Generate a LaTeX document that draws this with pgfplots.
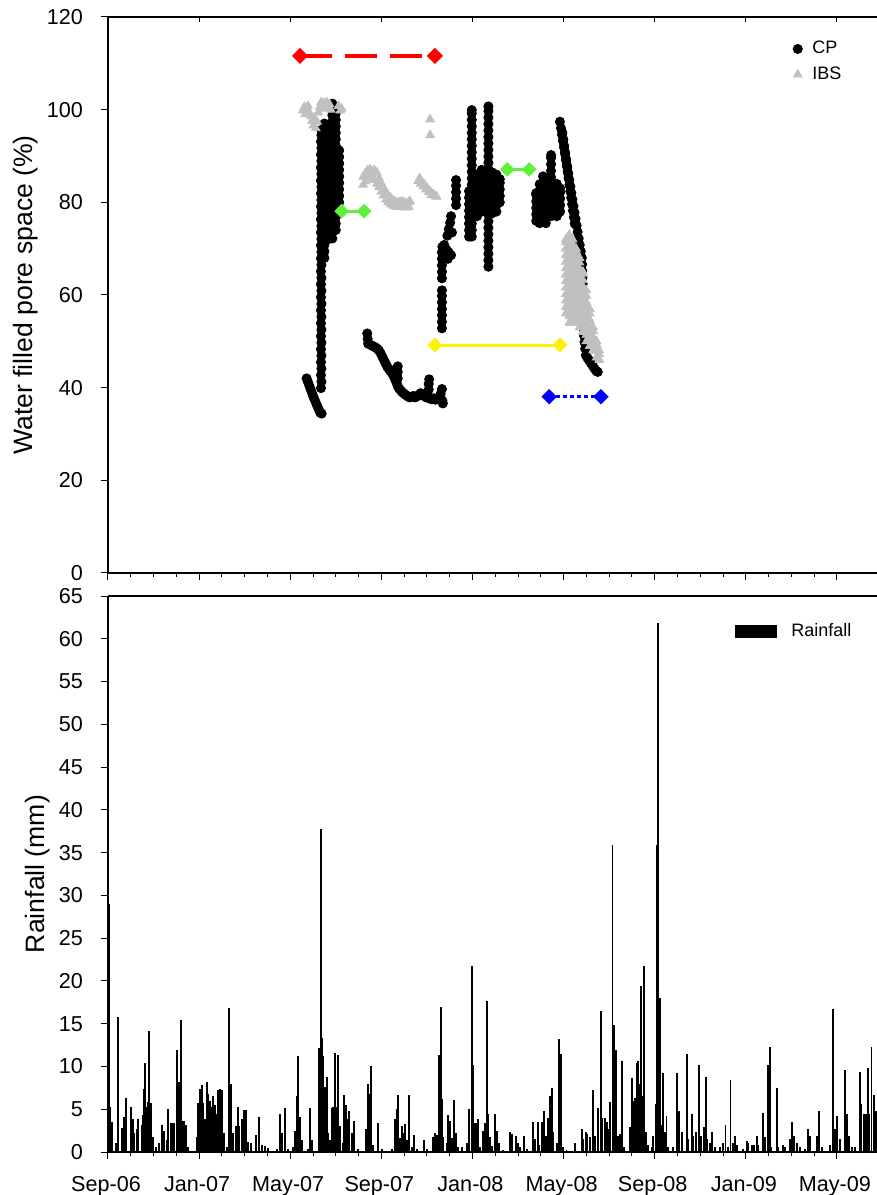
\documentclass[border=0pt]{standalone}
\usepackage{fontspec}
\setmainfont{Liberation Sans}
\usepackage{pgfplots}
\pgfplotsset{compat=1.18}
\definecolor{ibsgray}{RGB}{192,192,192}
\definecolor{lgreen}{RGB}{95,240,60}

\begin{document}
\begin{tikzpicture}
\pgfplotsset{
  base/.style={
    width=384.5pt, height=278pt, scale only axis,
    xmin=0, xmax=33.76,
    axis x line*=bottom, axis y line*=left,
    axis line style={-, line width=0.75pt},
    tick align=outside,
    major tick length=3.5pt, minor tick length=2pt,
    every tick/.style={line width=0.5pt, black},
    xtick={0,4,...,32}, minor x tick num=3,
    tick label style={font=\fontsize{10.8}{13}\selectfont},
    yticklabel style={xshift=-5.5pt},
    xticklabel style={yshift=-5pt, xshift=-1pt},
    /pgf/number format/assume math mode=true,
  },
  overlay/.style={
    width=384.5pt, height=278pt, scale only axis,
    xmin=0, xmax=33.76,
    axis x line*=top, axis y line=none,
    axis line style={-, line width=0.75pt},
    every tick/.style={line width=0.5pt, black},
    ytick=\empty, xticklabels={},
  },
  seg/.style={mark=square*, mark size=1.85pt, mark options={solid, rotate=45}, forget plot},
}

% ---------------- top panel ----------------
\begin{axis}[base, at={(0pt,289.5pt)},
  ymin=0, ymax=120, ytick={0,20,...,120},
  xticklabels={},
  ylabel={Water filled pore space (\%)},
  ylabel style={font=\fontsize{13.3}{16}\selectfont, at={(axis description cs:-0.1066,0.5)}, anchor=center},
  legend style={draw=none, fill=none, at={(0.962,0.968)}, anchor=north east,
    font=\fontsize{9}{11}\selectfont, row sep=1pt, inner sep=1pt,
    /tikz/every odd column/.append style={column sep=3pt}},
  legend cell align=left,
]
\addplot[only marks, mark=*, mark size=2.3pt, black] table {
8.72 42.0
8.78 41.2
8.84 40.4
8.90 39.6
8.96 38.8
9.02 38.0
9.08 37.3
9.14 36.6
9.20 35.9
9.26 35.2
9.32 34.6
9.38 34.4
9.35 39.9
9.37 41.3
9.35 42.7
9.37 44.1
9.35 45.5
9.37 46.9
9.35 48.3
9.37 49.7
9.35 51.1
9.37 52.5
9.35 53.9
9.37 55.3
9.35 56.7
9.37 58.1
9.35 59.5
9.37 60.9
9.35 62.3
9.37 63.7
9.35 65.1
9.37 66.5
9.35 67.9
9.37 69.3
9.35 70.7
9.37 72.1
9.35 73.5
9.37 74.9
9.35 76.3
9.37 77.7
9.35 79.1
9.37 80.5
9.35 81.9
9.37 83.3
9.35 84.7
9.37 86.1
9.35 87.5
9.37 88.9
9.35 90.3
9.37 91.7
9.35 93.1
9.37 94.5
9.36 95.6
9.50 68.0
9.50 69.4
9.50 70.8
9.50 72.2
9.50 73.6
9.50 75.0
9.50 76.4
9.50 77.8
9.50 79.2
9.50 80.6
9.50 82.0
9.50 83.4
9.50 84.8
9.50 86.2
9.50 87.6
9.50 89.0
9.50 90.4
9.50 91.8
9.50 93.2
9.50 94.6
9.50 96.0
9.50 97.0
9.65 72.0
9.65 73.4
9.65 74.8
9.65 76.2
9.65 77.6
9.65 79.0
9.65 80.4
9.65 81.8
9.65 83.2
9.65 84.6
9.65 86.0
9.65 87.4
9.65 88.8
9.65 90.2
9.65 91.6
9.65 93.0
9.65 94.4
9.65 95.8
9.85 72.2
9.85 73.6
9.85 75.0
9.85 76.4
9.85 77.8
9.85 79.2
9.85 80.6
9.85 82.0
9.85 83.4
9.85 84.8
9.85 86.2
9.85 87.6
9.85 89.0
9.85 90.4
9.85 91.8
9.85 93.2
9.85 94.6
9.85 96.0
9.85 97.4
9.85 98.8
9.85 100.2
9.85 101.3
10.00 74.0
10.00 75.4
10.00 76.8
10.00 78.2
10.00 79.6
10.00 81.0
10.00 82.4
10.00 83.8
10.00 85.2
10.00 86.6
10.00 88.0
10.00 89.4
10.00 90.8
10.00 92.2
10.00 93.6
10.00 95.0
10.00 96.4
10.00 97.8
10.00 99.2
10.00 100.6
10.15 80.0
10.15 81.4
10.15 82.8
10.15 84.2
10.15 85.6
10.15 87.0
10.15 88.4
10.15 89.8
10.15 91.2
11.38 51.7
11.40 50.5
11.42 49.5
11.50 49.3
11.58 49.1
11.66 48.9
11.74 48.7
11.82 48.4
11.90 48.0
11.97 47.4
12.04 46.7
12.11 46.0
12.18 45.3
12.25 44.6
12.32 44.1
12.39 43.6
12.46 43.2
12.53 42.6
12.60 41.8
12.67 41.0
12.72 40.3
12.72 42.0
12.72 43.4
12.72 44.6
12.78 39.8
12.85 39.4
12.92 39.0
13.00 38.7
13.08 38.4
13.16 38.1
13.24 37.9
13.32 38.0
13.40 38.2
13.48 37.9
13.56 38.1
13.64 38.4
13.72 38.8
13.80 38.6
13.88 38.2
13.96 37.9
14.04 38.3
14.08 39.6
14.08 40.8
14.10 41.8
14.14 37.6
14.22 37.5
14.30 37.7
14.38 37.4
14.46 37.6
14.54 37.9
14.60 38.6
14.66 39.7
14.68 37.2
14.70 36.6
14.66 52.8
14.66 54.2
14.66 55.6
14.66 57.0
14.66 58.4
14.66 59.8
14.66 61.0
14.66 63.6
14.66 65.0
14.66 66.4
14.66 67.8
14.66 69.2
14.68 70.4
14.76 70.8
14.86 69.8
14.96 69.2
15.06 68.6
14.80 68.2
14.92 67.8
14.90 72.8
14.96 74.2
15.02 75.6
15.06 77.0
15.10 73.5
15.28 79.4
15.28 80.8
15.28 82.2
15.28 83.6
15.28 84.8
15.85 72.6
15.85 74.0
15.85 75.4
15.85 76.8
15.85 78.2
15.85 79.6
15.85 81.0
15.85 82.4
15.97 72.6
15.97 74.0
15.97 75.4
15.97 76.8
15.97 78.2
15.97 79.6
15.97 81.0
15.97 82.4
15.97 83.8
15.97 85.2
15.97 86.6
15.97 88.0
15.97 89.4
15.97 90.8
15.97 92.2
15.97 93.6
15.97 95.0
15.97 96.4
15.97 97.8
15.97 99.2
15.97 99.9
16.20 77.0
16.20 78.4
16.20 79.8
16.20 81.2
16.20 82.6
16.20 84.0
16.20 85.4
16.20 86.0
16.40 78.0
16.40 79.4
16.40 80.8
16.40 82.2
16.40 83.6
16.40 85.0
16.40 86.4
16.40 87.0
16.55 79.0
16.55 80.4
16.55 81.8
16.55 83.2
16.55 84.6
16.55 86.0
16.70 66.1
16.70 67.5
16.70 68.9
16.70 70.3
16.70 71.7
16.70 73.1
16.70 74.5
16.70 75.9
16.70 77.3
16.70 78.7
16.70 80.1
16.70 81.5
16.70 82.9
16.70 84.3
16.70 85.7
16.70 87.1
16.70 88.5
16.70 89.9
16.70 91.3
16.70 92.7
16.70 94.1
16.70 95.5
16.70 96.9
16.70 98.3
16.70 99.7
16.70 100.7
16.85 77.6
16.85 79.0
16.85 80.4
16.85 81.8
16.85 83.2
16.85 84.6
16.85 86.0
16.85 86.5
17.05 78.0
17.05 79.4
17.05 80.8
17.05 82.2
17.05 83.6
17.05 85.0
17.05 86.0
17.20 80.0
17.20 81.4
17.20 82.8
17.20 84.2
17.20 85.0
18.80 76.0
18.80 77.4
18.80 78.8
18.80 80.2
18.80 81.6
18.80 82.0
18.95 75.5
18.95 76.9
18.95 78.3
18.95 79.7
18.95 81.1
18.95 82.5
18.95 83.9
19.10 76.0
19.10 77.4
19.10 78.8
19.10 80.2
19.10 81.6
19.10 83.0
19.10 84.4
19.10 85.6
19.22 75.5
19.22 76.9
19.22 78.3
19.22 79.7
19.45 77.0
19.45 78.4
19.45 79.8
19.45 81.2
19.45 82.6
19.45 84.0
19.45 85.4
19.45 86.8
19.45 88.2
19.45 89.6
19.45 90.2
19.70 77.0
19.70 78.4
19.70 79.8
19.70 81.2
19.70 82.6
19.70 84.0
19.85 78.0
19.85 79.4
19.85 80.8
19.85 82.2
19.85 83.0
19.840 97.4
19.886 96.0
19.932 94.6
19.977 93.2
20.023 91.8
20.069 90.4
20.115 89.0
20.160 87.6
20.206 86.2
20.252 84.8
20.298 83.4
20.343 82.0
20.389 80.6
20.435 79.2
20.481 77.8
20.526 76.4
20.572 75.0
20.618 73.6
20.664 72.2
20.709 70.8
20.755 69.4
20.801 68.0
20.81 66.6
20.82 65.2
20.83 63.8
20.84 62.4
20.85 61.0
20.86 59.6
20.87 58.2
20.87 56.8
20.88 55.4
20.88 54.0
20.89 52.6
20.90 51.2
20.92 49.8
20.95 48.4
20.98 47.0
21.05 46.4
21.12 45.9
21.20 45.3
21.28 44.7
21.36 44.1
21.44 43.6
21.50 43.4
19.950 95.0
19.988 93.6
20.027 92.2
20.065 90.8
20.104 89.4
20.142 88.0
20.181 86.6
20.219 85.2
20.258 83.8
20.296 82.4
20.335 81.0
20.373 79.6
20.412 78.2
20.450 76.8
20.488 75.4
};
\addlegendentry{CP}
\addplot[only marks, mark=triangle*, mark size=2.5pt, color=ibsgray] table {
8.55 99.8
8.62 100.6
8.66 99.0
8.72 99.6
8.78 100.8
8.84 99.4
8.90 98.6
8.96 97.6
9.02 96.6
9.06 98.2
9.12 96.0
9.18 97.4
9.24 99.4
9.30 100.6
9.36 101.6
9.42 100.4
9.48 101.4
9.54 100.2
9.60 101.6
9.66 100.4
9.72 101.2
9.78 100.0
10.12 100.8
10.20 99.8
10.26 100.2
11.20 85.5
11.30 86.3
11.40 86.9
11.50 87.1
11.60 86.7
11.70 86.9
11.80 86.4
11.90 85.2
12.00 84.1
12.10 83.1
12.20 82.2
12.30 81.5
12.40 81.0
12.50 80.5
12.60 80.2
12.70 80.0
12.80 80.0
12.90 80.2
13.00 80.0
13.10 79.8
13.20 80.0
13.26 80.2
11.20 83.8
11.30 84.5
11.40 85.1
11.50 85.4
11.60 85.1
11.70 84.8
11.80 84.0
11.90 83.3
12.00 82.3
12.10 81.5
12.20 80.6
12.30 80.0
12.40 79.6
12.50 79.3
12.60 79.1
12.70 79.0
12.80 79.1
12.90 79.0
13.00 78.9
13.10 78.9
13.20 79.0
13.62 84.6
13.68 85.2
13.72 84.0
13.78 84.4
13.84 83.4
13.90 83.8
13.96 82.8
14.02 83.0
14.08 82.2
14.14 82.4
14.20 81.6
14.28 81.8
14.36 81.3
14.43 81.2
14.14 97.9
14.14 94.5
20.10 56.0
20.10 57.4
20.10 58.8
20.10 60.2
20.10 61.6
20.10 63.0
20.10 64.4
20.10 65.8
20.10 67.2
20.10 68.6
20.10 70.0
20.10 71.4
20.10 72.0
20.25 54.0
20.25 55.4
20.25 56.8
20.25 58.2
20.25 59.6
20.25 61.0
20.25 62.4
20.25 63.8
20.25 65.2
20.25 66.6
20.25 68.0
20.25 69.4
20.25 70.8
20.25 72.2
20.25 73.0
20.40 54.0
20.40 55.4
20.40 56.8
20.40 58.2
20.40 59.6
20.40 61.0
20.40 62.4
20.40 63.8
20.40 65.2
20.40 66.6
20.40 68.0
20.40 69.4
20.40 70.8
20.40 72.0
20.55 54.0
20.55 55.4
20.55 56.8
20.55 58.2
20.55 59.6
20.55 61.0
20.55 62.4
20.55 63.8
20.55 65.2
20.55 66.6
20.55 68.0
20.55 69.4
20.55 70.0
20.70 53.0
20.70 54.4
20.70 55.8
20.70 57.2
20.70 58.6
20.70 60.0
20.70 61.4
20.70 62.8
20.70 64.2
20.70 65.6
20.70 67.0
20.70 68.0
20.85 52.0
20.85 53.4
20.85 54.8
20.85 56.2
20.85 57.6
20.85 59.0
20.85 60.4
20.85 61.8
20.85 63.2
20.85 64.6
20.85 65.0
21.00 50.0
21.00 51.4
21.00 52.8
21.00 54.2
21.00 55.6
21.00 57.0
21.00 58.4
21.00 59.8
21.00 61.0
21.15 49.0
21.15 50.4
21.15 51.8
21.15 53.2
21.15 54.6
21.15 56.0
21.15 57.0
21.30 48.0
21.30 49.4
21.30 50.8
21.30 52.2
21.30 53.0
21.45 46.5
21.45 47.9
21.45 49.3
21.45 50.0
21.57 46.0
21.57 47.2
21.57 48.0
};
\addlegendentry{IBS}
% horizontal period bars
\addplot[seg, red, line width=2pt, dash pattern=on 16pt off 6.5pt] coordinates {(8.43,111.6) (14.35,111.6)};
\addplot[seg, lgreen, line width=1.5pt] coordinates {(10.26,78.1) (11.24,78.1)};
\addplot[seg, lgreen, line width=1.5pt] coordinates {(17.53,87.1) (18.49,87.1)};
\addplot[seg, yellow, line width=1.5pt] coordinates {(14.35,49.2) (19.84,49.2)};
\addplot[seg, blue, line width=1.75pt, dash pattern=on 2pt off 1.5pt] coordinates {(19.37,38.05) (21.64,38.05)};
\end{axis}
\begin{axis}[overlay, at={(0pt,289.5pt)}, ymin=0, ymax=120,
  xtick={4,8,...,32}, tick align=inside, major tick length=2.5pt]
\end{axis}

% ---------------- bottom panel ----------------
\begin{axis}[base, at={(0pt,0pt)},
  ymin=0, ymax=65, ytick={0,5,...,65},
  xticklabels={Sep-06,Jan-07,May-07,Sep-07,Jan-08,May-08,Sep-08,Jan-09,May-09},
  ylabel={Rainfall (mm)},
  ylabel style={font=\fontsize{13.3}{16}\selectfont, at={(axis description cs:-0.091,0.5)}, anchor=center},
  legend style={draw=none, fill=none, at={(0.975,0.962)}, anchor=north east,
    font=\fontsize{9}{11}\selectfont, inner sep=1pt,
    /tikz/every odd column/.append style={column sep=5pt}},
  legend cell align=left,
]
\addplot[ycomb, black, line width=0.95pt, mark=none,
  legend image code/.code={\fill[black] (0pt,-3pt) rectangle (20pt,3pt);}] table {
0.06 29.0
0.11 5.3
0.161 3.5
0.337 1.0
0.454 15.8
0.600 2.8
0.702 4.1
0.790 6.3
0.995 5.3
1.112 3.9
1.156 2.2
1.258 2.7
1.332 3.9
1.478 3.1
1.551 4.3
1.595 7.4
1.624 10.4
1.697 5.3
1.770 5.9
1.814 14.2
1.873 5.7
1.990 1.8
2.107 0.6
2.253 1.0
2.356 3.1
2.473 2.5
2.575 1.4
2.648 5.0
2.751 3.4
2.839 3.4
2.897 3.4
3.043 11.9
3.117 8.2
3.205 15.4
3.278 3.6
3.336 3.6
3.424 3.1
3.527 0.6
3.893 1.8
3.937 5.7
4.039 7.4
4.112 7.8
4.186 5.7
4.259 3.8
4.332 8.2
4.405 6.8
4.478 6.0
4.551 5.3
4.624 6.6
4.697 5.5
4.771 4.5
4.844 7.2
4.917 7.4
5.005 7.3
5.093 2.2
5.210 0.6
5.327 16.8
5.385 8.0
5.473 2.2
5.619 3.0
5.692 5.3
5.766 3.0
5.868 3.9
5.971 4.9
6.058 4.9
6.161 1.2
6.263 1.0
6.497 2.0
6.643 4.1
6.746 0.8
6.892 0.7
7.038 0.5
7.404 0.4
7.550 4.5
7.623 2.2
7.770 5.1
7.916 0.4
8.106 0.6
8.209 2.5
8.282 6.6
8.355 11.2
8.428 4.1
8.501 1.4
8.794 0.4
8.867 5.1
8.940 1.4
9.277 12.1
9.336 37.8
9.380 13.3
9.453 11.2
9.526 7.6
9.600 8.8
9.673 2.2
9.746 1.4
9.819 5.1
9.892 5.3
9.965 11.6
10.038 5.3
10.097 11.3
10.185 3.0
10.302 1.0
10.360 6.7
10.448 5.5
10.507 3.8
10.594 4.8
10.697 2.2
10.799 3.6
10.990 0.4
11.325 2.7
11.399 8.0
11.472 6.8
11.545 10.0
11.648 0.8
11.867 3.4
12.013 0.4
12.452 0.4
12.598 3.8
12.672 5.0
12.745 6.7
12.818 1.6
12.891 3.0
12.964 2.2
13.037 3.3
13.111 1.4
13.228 6.7
13.330 0.6
13.433 2.0
13.550 0.4
13.872 1.4
13.989 0.4
14.282 1.8
14.355 2.2
14.428 2.0
14.545 11.3
14.604 17.0
14.648 6.2
14.721 1.8
14.868 1.0
14.941 4.3
15.014 3.6
15.087 1.6
15.190 6.1
15.278 2.2
15.380 0.6
15.527 0.6
15.746 1.0
15.863 5.0
15.966 21.8
16.040 10.2
16.113 3.4
16.186 3.4
16.260 3.9
16.333 0.6
16.450 2.4
16.552 3.4
16.625 17.6
16.669 4.5
16.772 1.8
16.845 0.7
16.991 4.5
17.065 2.5
17.182 1.0
17.35 0.2
17.65 2.3
17.72 2.1
17.91 1.9
18.01 1.0
18.09 0.6
18.28 1.9
18.38 0.4
18.67 3.5
18.74 1.5
18.86 3.5
18.93 0.8
19.07 3.5
19.14 4.8
19.23 1.9
19.33 4.0
19.40 6.5
19.48 7.5
19.55 2.3
19.70 1.0
19.81 13.2
19.90 11.5
19.99 0.6
20.13 0.2
20.50 1.0
20.79 2.7
20.87 1.5
20.98 2.3
21.04 2.1
21.16 1.7
21.31 7.3
21.38 1.9
21.52 5.2
21.63 16.5
21.71 4.0
21.82 4.0
21.89 3.5
21.96 2.7
22.04 5.8
22.15 35.9
22.23 14.8
22.30 11.9
22.37 1.9
22.48 2.1
22.56 10.6
22.65 0.6
22.91 2.9
22.99 8.6
23.06 6.0
23.13 6.3
23.21 10.4
23.28 10.6
23.32 7.9
23.40 19.4
23.47 6.5
23.54 21.7
23.62 2.3
23.72 0.8
23.87 0.6
23.94 1.9
24.04 5.6
24.09 35.9
24.16 61.8
24.23 18.0
24.30 3.1
24.38 9.2
24.45 2.3
24.52 4.2
24.60 0.6
24.82 0.6
24.96 9.2
25.07 4.8
25.18 2.3
25.40 11.5
25.48 1.5
25.62 4.4
25.70 1.9
25.81 2.3
25.94 10.2
26.02 1.9
26.16 2.9
26.25 8.8
26.32 1.5
26.43 1.0
26.53 2.3
26.65 0.6
26.87 0.6
26.98 1.0
27.11 3.1
27.23 0.6
27.33 8.4
27.42 1.0
27.52 1.9
27.60 0.8
27.89 0.4
28.04 1.3
28.11 1.0
28.26 0.8
28.36 0.8
28.48 1.9
28.55 0.8
28.77 4.6
28.84 1.7
28.99 10.2
29.06 12.3
29.13 0.6
29.35 7.5
29.43 0.6
29.62 0.8
29.72 0.6
29.94 1.5
30.04 3.5
30.11 1.9
30.23 1.0
30.38 0.6
30.60 0.4
30.74 2.7
30.82 1.9
31.11 1.9
31.23 4.8
31.33 0.6
31.69 0.8
31.81 16.7
31.91 2.7
32.02 4.2
32.13 1.5
32.35 9.6
32.43 4.4
32.54 1.9
32.65 0.6
32.79 0.6
33.01 9.4
33.08 5.6
33.18 4.4
33.27 4.4
33.35 9.8
33.42 4.4
33.52 12.3
33.63 6.7
33.71 4.8
};
\addlegendentry{Rainfall}
\end{axis}
\begin{axis}[overlay, at={(0pt,0pt)}, ymin=0, ymax=65, xtick=\empty]
\end{axis}

\pgfresetboundingbox
\path[use as bounding box] (-54pt,-21.5pt) rectangle (384.5pt,576pt);
\end{tikzpicture}
\end{document}
